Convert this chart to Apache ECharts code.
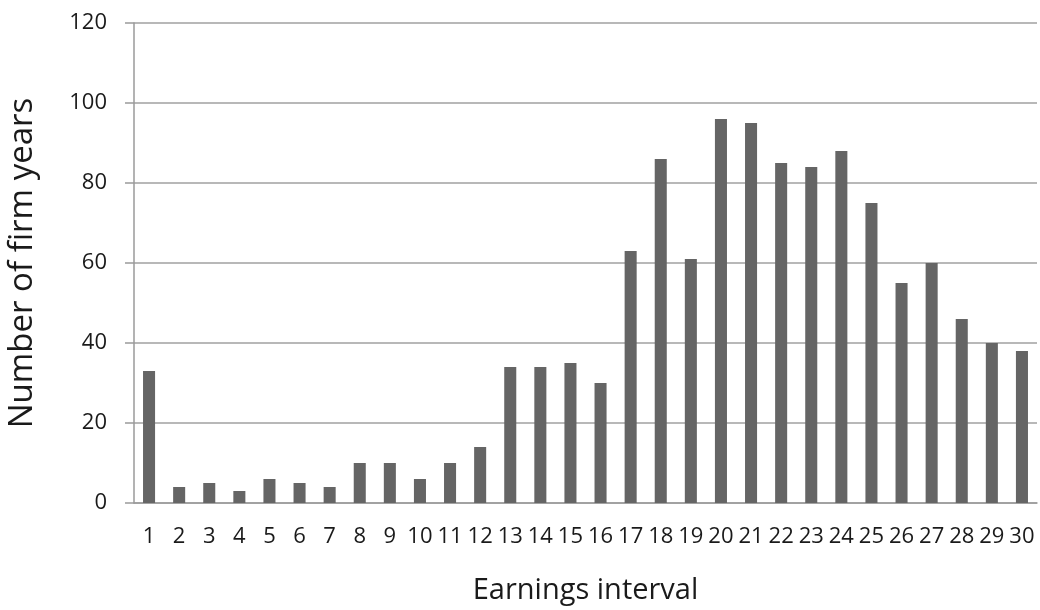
<!DOCTYPE html>
<html>
<head>
<meta charset="utf-8">
<script src="https://cdn.jsdelivr.net/npm/echarts@6/dist/echarts.min.js"></script>
<style>
html,body{margin:0;padding:0;background:#fff;}
#chart{width:1040px;height:610px;}
</style>
</head>
<body>
<div id="chart"></div>
<script>
const categories = ["1","2","3","4","5","6","7","8","9","10","11","12","13","14","15","16","17","18","19","20","21","22","23","24","25","26","27","28","29","30"];
const firmYears = [33,4,5,3,6,5,4,10,10,6,10,14,34,34,35,30,63,86,61,96,95,85,84,88,75,55,60,46,40,38];
const yTicks = [0,20,40,60,80,100,120];

const chart = echarts.init(document.getElementById('chart'), null, {renderer:'canvas'});
const font = "'Open Sans', 'DejaVu Sans', sans-serif";
chart.setOption({
  animation: false,
  backgroundColor: '#ffffff',
  grid: {left: 134, right: 3, top: 23, bottom: 107, containLabel: false, outerBoundsMode: 'none'},
  xAxis: {
    type: 'category',
    data: categories,
    name: 'Earnings interval',
    nameLocation: 'middle',
    nameGap: 73,
    nameTextStyle: {fontFamily: font, fontSize: 29, color: '#1a1a1a'},
    axisLine: {show: true, lineStyle: {color: '#9a9a9a', width: 1.5}},
    axisTick: {show: false},
    axisLabel: {fontFamily: font, fontSize: 22, color: '#1a1a1a', margin: 23, interval: 0}
  },
  yAxis: {
    type: 'value',
    min: yTicks[0],
    max: yTicks[yTicks.length-1],
    interval: 20,
    name: 'Number of firm years',
    nameLocation: 'middle',
    nameGap: 95,
    nameTextStyle: {fontFamily: font, fontSize: 33, color: '#1a1a1a'},
    axisLine: {show: true, lineStyle: {color: '#9a9a9a', width: 1.5}},
    axisTick: {show: true, length: 9, lineStyle: {color: '#9a9a9a', width: 1.5}},
    axisLabel: {fontFamily: font, fontSize: 22, color: '#1a1a1a', margin: 27},
    splitLine: {show: true, lineStyle: {color: '#a0a0a0', width: 1.5}}
  },
  series: [{
    type: 'bar',
    data: firmYears,
    barWidth: '40%',
    itemStyle: {color: '#656565'}
  }]
});
</script>
</body>
</html>
